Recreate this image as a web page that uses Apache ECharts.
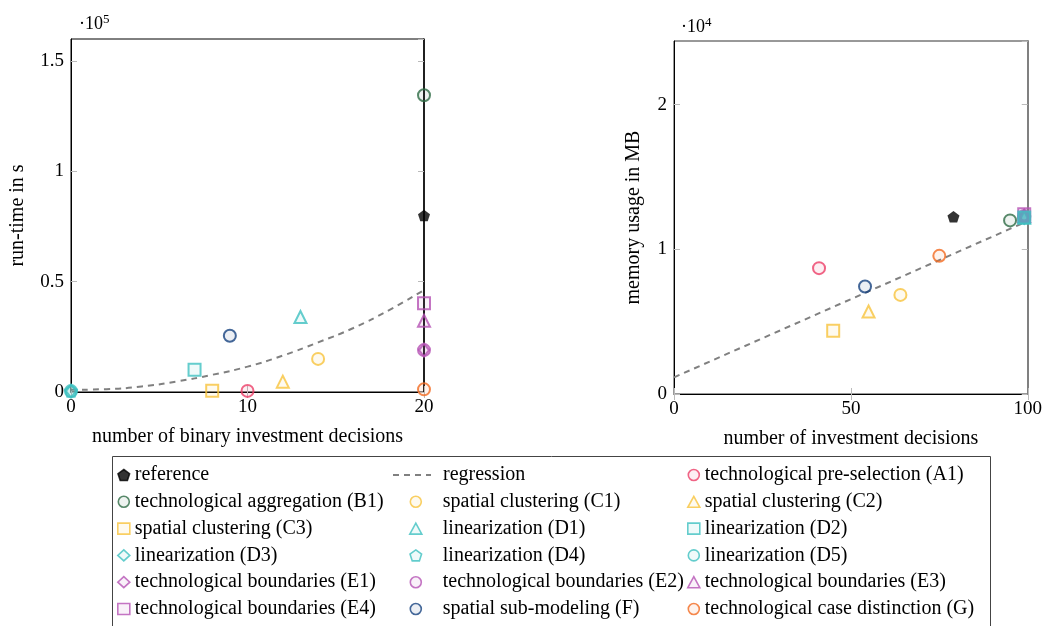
<!DOCTYPE html>
<html>
<head>
<meta charset="utf-8">
<script src="https://cdn.jsdelivr.net/npm/echarts@6/dist/echarts.min.js"></script>
<style>
  html, body { margin: 0; padding: 0; background: #fff; }
  #chart { width: 1045px; height: 626px; }
</style>
</head>
<body>
<div id="chart"></div>
<script>
const methods = [
  'reference',
  'technological pre-selection (A1)',
  'technological aggregation (B1)',
  'spatial clustering (C1)',
  'spatial clustering (C2)',
  'spatial clustering (C3)',
  'linearization (D1)',
  'linearization (D2)',
  'linearization (D3)',
  'linearization (D4)',
  'linearization (D5)',
  'technological boundaries (E1)',
  'technological boundaries (E2)',
  'technological boundaries (E3)',
  'technological boundaries (E4)',
  'spatial sub-modeling (F)',
  'technological case distinction (G)'
];

// left panel: binary investment decisions vs run-time in s
const runtimeX = [20, 10, 20, 14, 12, 8, 13, 7, 0, 0, 0, 20, 20, 20, 20, 9, 20];
const runtimeY = [80000, 500, 134500, 15000, 4700, 600, 34000, 10100, 400, 400, 400, 19000, 19000, 32300, 40200, 25500, 1200];

// right panel: investment decisions vs memory usage in MB
const memoryX = [79, 41, 95, 64, 55, 45, 99, 99, 99, 99, 99, 99, 99, 99, 99, 54, 75];
const memoryY = [12250, 8700, 12000, 6850, 5700, 4380, 12200, 12200, 12200, 12200, 12200, 12300, 12300, 12300, 12420, 7430, 9550];

// regression curves
const regRuntimeX = [0, 2, 4, 6, 8, 10, 12, 14, 16, 18, 20];
const regRuntimeY = [1000, 1300, 2500, 4800, 7800, 11500, 16500, 22500, 29000, 37000, 46200];
const regMemoryX = [0, 99];
const regMemoryY = [1150, 11850];

// tick labels
const runtimeTicks = ['0', '0.5', '1', '1.5'];
const memoryTicks = ['0', '1', '2'];

// legend columns
const legendCol1 = ['reference', 'technological aggregation (B1)', 'spatial clustering (C3)', 'linearization (D3)', 'technological boundaries (E1)', 'technological boundaries (E4)'];
const legendCol2 = ['spatial clustering (C1)', 'linearization (D1)', 'linearization (D4)', 'technological boundaries (E2)', 'spatial sub-modeling (F)'];
const legendCol3 = ['technological pre-selection (A1)', 'spatial clustering (C2)', 'linearization (D2)', 'linearization (D5)', 'technological boundaries (E3)', 'technological case distinction (G)'];

// styles per method
const PENTAGON = 'path://M0,-1L0.951,-0.309L0.588,0.809L-0.588,0.809L-0.951,-0.309Z';
const GREEN = '#2e6b45', PINK = '#ec3e68', YELLOW = '#f7c33c', TEAL = '#3fc1c1',
      PURPLE = '#b552b4', NAVY = '#16427f', ORANGE = '#f26a21';
const markerColor = ['#000', PINK, GREEN, YELLOW, YELLOW, YELLOW, TEAL, TEAL, TEAL, TEAL, TEAL,
  PURPLE, PURPLE, PURPLE, PURPLE, NAVY, ORANGE];
const markerShape = [PENTAGON, 'circle', 'circle', 'circle', 'triangle', 'rect', 'triangle', 'rect',
  'diamond', PENTAGON, 'circle', 'diamond', 'circle', 'triangle', 'rect', 'circle', 'circle'];

const FONT = '"Liberation Serif", "DejaVu Serif", serif';
const ROW = 26.8;

function fade(hex, a) {
  if (hex === '#000') return '#000';
  const n = parseInt(hex.slice(1), 16);
  return `rgba(${n >> 16},${(n >> 8) & 255},${n & 255},${a})`;
}

const chart = echarts.init(document.getElementById('chart'));

const series = [];
methods.forEach((name, i) => {
  const isD2 = name === 'linearization (D2)';
  const base = {
    name,
    type: 'scatter',
    symbol: markerShape[i],
    symbolSize: markerShape[i] === 'diamond' ? [10, 13] : 12,
    symbolKeepAspect: true,
    z: isD2 ? 6 : 3
  };
  const style = a => ({
    color: fade(markerColor[i], a),
    borderColor: markerColor[i],
    borderWidth: i === 0 ? 0 : 2
  });
  series.push(Object.assign({}, base, {
    xAxisIndex: 0, yAxisIndex: 0, itemStyle: style(0.1),
    data: [[runtimeX[i], runtimeY[i]]]
  }));
  series.push(Object.assign({}, base, {
    xAxisIndex: 2, yAxisIndex: 2, itemStyle: style(isD2 ? 0.85 : 0.1),
    data: [[memoryX[i], memoryY[i]]]
  }));
});

const regStyle = { color: '#808080', width: 2, type: [6, 5] };
series.unshift({
  name: 'regression', type: 'line', smooth: true, symbol: 'none', z: 2,
  xAxisIndex: 0, yAxisIndex: 0, lineStyle: regStyle, itemStyle: { color: '#808080' },
  data: regRuntimeX.map((x, i) => [x, regRuntimeY[i]])
}, {
  name: 'regression', type: 'line', symbol: 'none', z: 2,
  xAxisIndex: 2, yAxisIndex: 2, lineStyle: regStyle, itemStyle: { color: '#808080' },
  data: regMemoryX.map((x, i) => [x, regMemoryY[i]])
});

const tickLabel = { color: '#000', fontFamily: FONT, fontSize: 19 };
const innerTick = { show: true, inside: true, length: 6, lineStyle: { color: '#bbb' } };
const nameStyle = { color: '#000', fontFamily: FONT, fontSize: 20 };

function tickText(ticks, interval) {
  return v => (Math.abs(v % interval) < 1e-6 ? ticks[Math.round(v / interval)] : '');
}

function mainX(grid, max, interval, name, gap) {
  return {
    gridIndex: grid, type: 'value', min: 0, max, interval, position: 'bottom',
    name, nameLocation: 'middle', nameGap: gap, nameTextStyle: nameStyle,
    axisLine: { show: true, onZero: false, lineStyle: { color: '#000', width: 1 } },
    axisTick: innerTick, splitLine: { show: false },
    axisLabel: Object.assign({ margin: 6 }, tickLabel)
  };
}
function mirrorX(grid, max, interval) {
  return {
    gridIndex: grid, type: 'value', min: 0, max, interval, position: 'top',
    axisLine: { show: false }, axisTick: innerTick, axisLabel: { show: false }, splitLine: { show: false }
  };
}
function mainY(grid, max, interval, ticks, name, gap) {
  return {
    gridIndex: grid, type: 'value', min: 0, max, interval, position: 'left',
    name, nameLocation: 'middle', nameGap: gap, nameTextStyle: nameStyle,
    axisLine: { show: true, onZero: false, lineStyle: { color: '#000', width: 1 } },
    axisTick: innerTick, splitLine: { show: false },
    axisLabel: Object.assign({ margin: 7, showMaxLabel: false, formatter: tickText(ticks, interval) }, tickLabel)
  };
}
function mirrorY(grid, max, interval, lineColor, lineWidth) {
  return {
    gridIndex: grid, type: 'value', min: 0, max, interval, position: 'right',
    axisLine: { show: true, onZero: false, lineStyle: { color: lineColor, width: lineWidth } },
    axisTick: innerTick, axisLabel: { show: false }, splitLine: { show: false }
  };
}

function legendColumn(names, left, top, itemWidth, textPad) {
  return {
    data: names.map(n => n === 'regression'
      ? { name: n, itemStyle: { color: 'transparent', borderColor: 'transparent', borderWidth: 0 } }
      : n),
    left, top, orient: 'vertical', selectedMode: false,
    itemWidth, itemHeight: 11, itemGap: ROW - 20,
    itemStyle: { borderWidth: 1.6 },
    textStyle: { color: '#000', fontFamily: FONT, fontSize: 20, lineHeight: 20, padding: [0, 0, 0, textPad] }
  };
}

chart.setOption({
  animation: false,
  backgroundColor: '#fff',
  grid: [
    { left: 71, top: 39, width: 353, height: 353, show: true, borderColor: '#000', borderWidth: 1 },
    { left: 674, top: 41, width: 354, height: 353, show: true, borderColor: '#333', borderWidth: 1 }
  ],
  xAxis: [
    mainX(0, 20, 10, 'number of binary investment decisions', 35),
    mirrorX(0, 20, 10),
    mainX(1, 100, 50, 'number of investment decisions', 35),
    mirrorX(1, 100, 50)
  ],
  yAxis: [
    mainY(0, 160000, 50000, runtimeTicks, 'run-time in s', 43),
    mirrorY(0, 160000, 50000, '#000', 1.5),
    mainY(1, 24400, 10000, memoryTicks, 'memory usage in MB', 30),
    mirrorY(1, 24400, 10000, '#808080', 2)
  ],
  legend: [
    legendColumn(legendCol1, 112, 460, 12, 0),
    legendColumn(['regression'], 387, 460, 38, 7),
    legendColumn(legendCol2, 404, 460 + ROW, 12, 16),
    legendColumn(legendCol3, 682, 460, 12, 0)
  ],
  graphic: [
    {
      type: 'text', left: 79, top: 13,
      style: { text: '·10{s|5}', fill: '#000', font: '18px ' + FONT,
        rich: { s: { fontSize: 13, fontFamily: FONT, verticalAlign: 'top', padding: [0, 0, 9, 0] } } }
    },
    {
      type: 'text', left: 681, top: 16,
      style: { text: '·10{s|4}', fill: '#000', font: '18px ' + FONT,
        rich: { s: { fontSize: 13, fontFamily: FONT, verticalAlign: 'top', padding: [0, 0, 9, 0] } } }
    },
    {
      type: 'rect', shape: { x: 112.5, y: 456.5, width: 878, height: 180 },
      style: { fill: 'none', stroke: '#444', lineWidth: 1 }, z: -1
    }
  ],
  series
});
</script>
</body>
</html>
